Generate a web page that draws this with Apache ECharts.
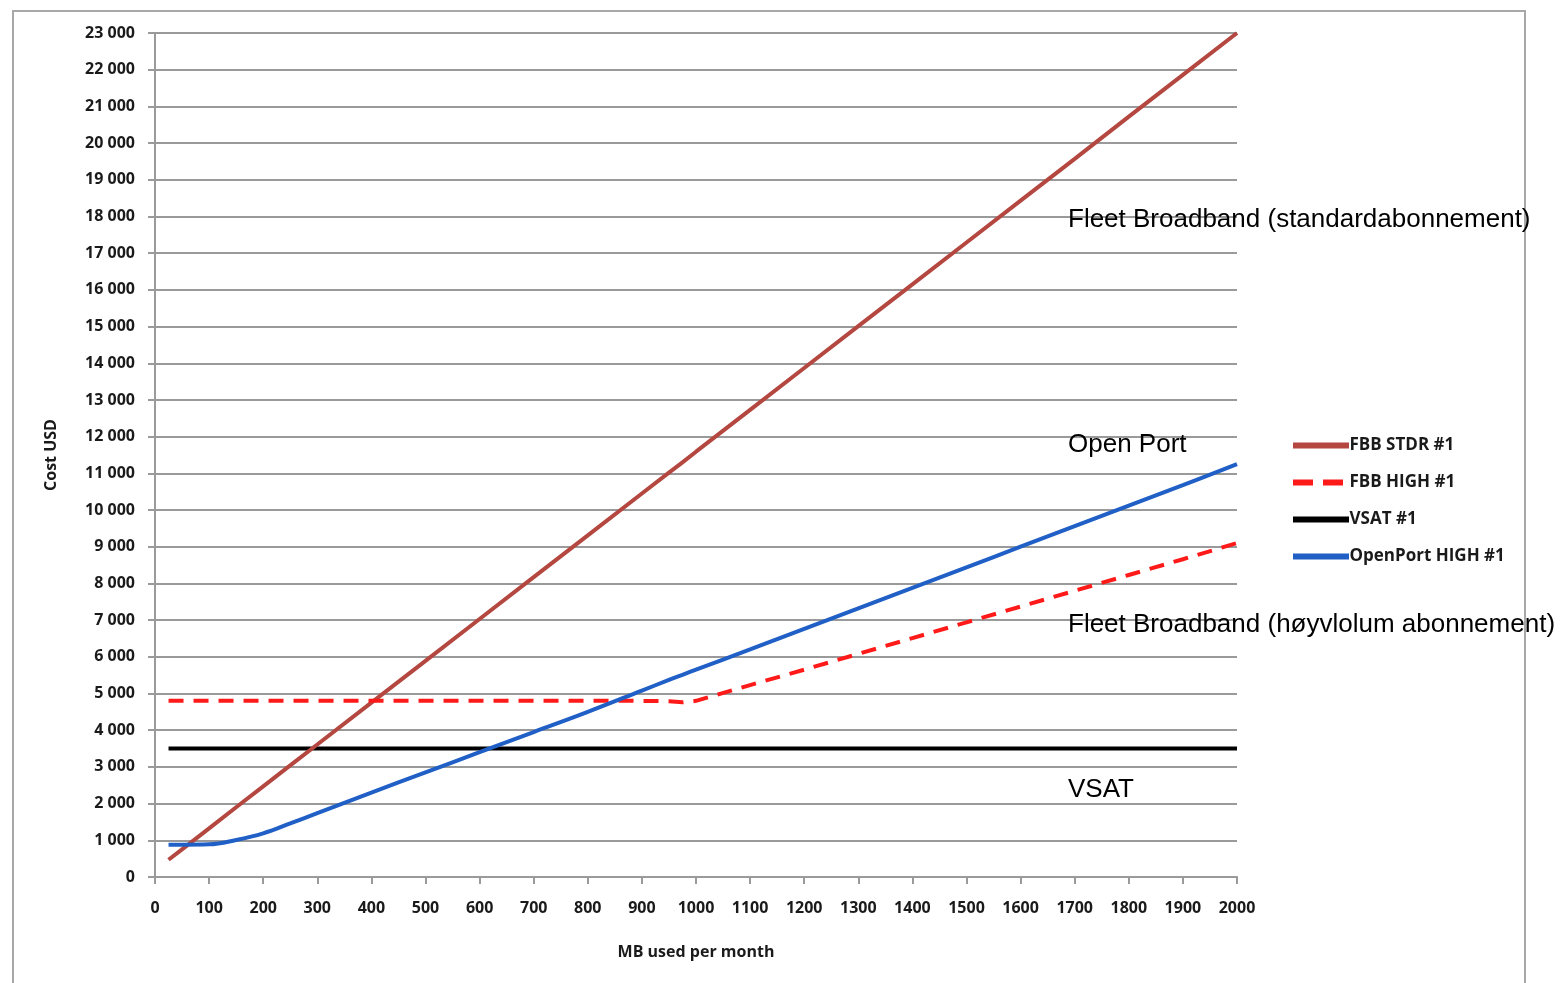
<!DOCTYPE html>
<html>
<head>
<meta charset="utf-8">
<script src="https://cdn.jsdelivr.net/npm/echarts@6/dist/echarts.min.js"></script>
<style>
  html, body { margin: 0; padding: 0; background: #fff; }
  #chart { width: 1566px; height: 983px; }
</style>
</head>
<body>
<div id="chart"></div>
<script>
// MB per month (x values shared by all series)
var mbUsed = [25, 50, 100, 150, 200, 250, 300, 400, 500, 600, 700, 800, 900, 950, 975, 1000,
  1100, 1200, 1300, 1400, 1500, 1600, 1700, 1800, 1900, 2000];

var fbbStdr = [470, 755, 1325, 1900, 2470, 3040, 3610, 4750, 5890, 7030, 8170, 9310, 10450, 11020, 11300, 11590,
  12730, 13870, 15010, 16150, 17290, 18430, 19570, 20720, 21860, 23000];
var fbbHigh = [4800, 4800, 4800, 4800, 4800, 4800, 4800, 4800, 4800, 4800, 4800, 4800, 4800, 4790, 4760, 4800,
  5230, 5650, 6080, 6510, 6940, 7370, 7800, 8230, 8660, 9100];
var vsat = [3500, 3500, 3500, 3500, 3500, 3500, 3500, 3500, 3500, 3500, 3500, 3500, 3500, 3500, 3500, 3500,
  3500, 3500, 3500, 3500, 3500, 3500, 3500, 3500, 3500, 3500];
var openPort = [880, 880, 890, 1010, 1190, 1460, 1740, 2300, 2850, 3400, 3950, 4500, 5080, 5370, 5510, 5650,
  6200, 6760, 7320, 7880, 8440, 9000, 9560, 10120, 10680, 11250];

var seriesNames = ['FBB STDR #1', 'FBB HIGH #1', 'VSAT #1', 'OpenPort HIGH #1'];
var notes = [
  { text: 'Fleet Broadband (standardabonnement)', y: 222 },
  { text: 'Open Port', y: 447 },
  { text: 'Fleet Broadband (høyvlolum abonnement)', y: 627 },
  { text: 'VSAT', y: 792 }
];

function pairs(vals) {
  return vals.map(function (v, i) { return [mbUsed[i], v]; });
}

function fmtThousands(v) {
  var s = String(v);
  return s.length > 3 ? s.slice(0, s.length - 3) + ' ' + s.slice(-3) : s;
}

var labelFont = { fontFamily: 'Open Sans', fontWeight: 'bold', fontSize: 16, color: '#1a1a1a' };
var solidIcon = 'path://M0,0 h56 v6 h-56 z';
var dashIcon = 'path://M0,0 h20 v6 h-20 z M30,0 h20 v6 h-20 z M56,0 h0 v6 h0 z';

var chart = echarts.init(document.getElementById('chart'));

var option = {
  backgroundColor: '#fff',
  animation: false,
  grid: { left: 155, right: 329, top: 33, bottom: 106 },
  legend: {
    orient: 'vertical',
    left: 1288,
    top: 432,
    itemWidth: 57,
    itemHeight: 6,
    itemGap: 20,
    textStyle: { fontFamily: 'Open Sans', fontWeight: 'bold', fontSize: 17, color: '#1a1a1a', padding: [0, 0, 0, -5] },
    data: [
      { name: seriesNames[0], icon: solidIcon },
      { name: seriesNames[1], icon: dashIcon },
      { name: seriesNames[2], icon: solidIcon },
      { name: seriesNames[3], icon: solidIcon }
    ]
  },
  xAxis: {
    type: 'value',
    min: 0,
    max: 2000,
    interval: 100,
    name: 'MB used per month',
    nameLocation: 'middle',
    nameGap: 67,
    nameTextStyle: labelFont,
    axisLine: { show: true, lineStyle: { color: '#9a9a9a', width: 2 } },
    axisTick: { show: true, length: 7, lineStyle: { color: '#9a9a9a', width: 2 } },
    axisLabel: Object.assign({ margin: 23, formatter: function (v) { return String(v); } }, labelFont),
    splitLine: { show: false }
  },
  yAxis: {
    type: 'value',
    min: 0,
    max: 23000,
    interval: 1000,
    name: 'Cost USD',
    nameLocation: 'middle',
    nameGap: 96,
    nameRotate: 90,
    nameTextStyle: labelFont,
    axisLine: { show: true, lineStyle: { color: '#9a9a9a', width: 2 } },
    axisTick: { show: true, length: 7, lineStyle: { color: '#9a9a9a', width: 2 } },
    axisLabel: Object.assign({ margin: 20, formatter: fmtThousands }, labelFont),
    splitLine: { show: true, lineStyle: { color: '#9a9a9a', width: 2 } }
  },
  series: [
    {
      name: seriesNames[0], type: 'line', symbol: 'none', z: 3,
      data: pairs(fbbStdr),
      itemStyle: { color: '#B4473F' },
      lineStyle: { color: '#B4473F', width: 4 }
    },
    {
      name: seriesNames[1], type: 'line', symbol: 'none', z: 4,
      data: pairs(fbbHigh),
      itemStyle: { color: '#FF1A1A' },
      lineStyle: { color: '#FF1A1A', width: 4, type: [15, 10] }
    },
    {
      name: seriesNames[2], type: 'line', symbol: 'none', z: 2,
      data: pairs(vsat),
      itemStyle: { color: '#000' },
      lineStyle: { color: '#000', width: 4 }
    },
    {
      name: seriesNames[3], type: 'line', symbol: 'none', z: 5, smooth: 0.4,
      data: pairs(openPort),
      itemStyle: { color: '#1F5FC6' },
      lineStyle: { color: '#1F5FC6', width: 4 }
    }
  ],
  graphic: [
    {
      type: 'rect', z: 0, silent: true,
      shape: { x: 13, y: 11, width: 1512, height: 985 },
      style: { fill: 'none', stroke: '#a8a8a8', lineWidth: 2 }
    }
  ].concat(notes.map(function (n) {
    return {
      type: 'text', z: 100, left: 1068, top: n.y - 15,
      style: { text: n.text, font: '26px "Liberation Sans", Arial, sans-serif', fill: '#000' }
    };
  }))
};

chart.setOption(option);
</script>
</body>
</html>
